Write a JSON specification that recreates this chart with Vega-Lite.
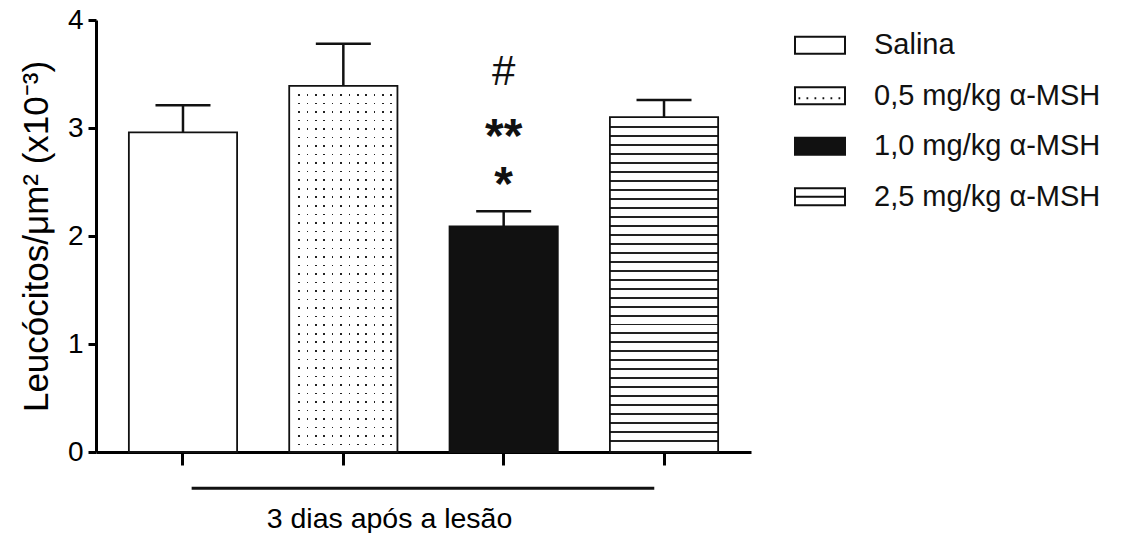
{
  "$schema": "https://vega.github.io/schema/vega-lite/v6.json",
  "padding": {"left": 19, "top": 6, "right": 5, "bottom": 0},
  "background": "white",
  "config": {
    "font": "Liberation Sans",
    "view": {"stroke": null},
    "axis": {"titleFontWeight": "normal", "domainColor": "black", "tickColor": "black", "labelColor": "black", "titleColor": "black", "grid": false}
  },
  "datasets": {
    "grupos": [
      {"grupo": "Salina", "media": 2.96, "superior": 3.21},
      {"grupo": "0,5 mg/kg α-MSH", "media": 3.39, "superior": 3.78},
      {"grupo": "1,0 mg/kg α-MSH", "media": 2.09, "superior": 2.23, "sig1": "#", "sig2": "**", "sig3": "*"},
      {"grupo": "2,5 mg/kg α-MSH", "media": 3.10, "superior": 3.26}
    ],
    "linha": [{"de": "Salina", "ate": "2,5 mg/kg α-MSH"}]
  },
  "hconcat": [
    {
      "width": 655,
      "height": 432,
      "data": {"name": "grupos"},
      "encoding": {
        "x": {
          "field": "grupo", "type": "nominal", "sort": null, "title": "3 dias após a lesão",
          "scale": {"type": "band", "domain": ["Salina", "0,5 mg/kg α-MSH", "1,0 mg/kg α-MSH", "2,5 mg/kg α-MSH"], "paddingInner": 0.325, "paddingOuter": 0.205},
          "axis": {"labels": false, "ticks": true, "tickSize": 13, "tickWidth": 3, "domainWidth": 3, "titleFontSize": 28.5, "titleX": 293, "titleY": 75, "titleBaseline": "alphabetic", "titleAlign": "center"}
        }
      },
      "layer": [
        {
          "mark": {"type": "bar", "stroke": null},
          "encoding": {
            "y": {
              "field": "media", "type": "quantitative", "title": "Leucócitos/μm² (x10⁻³)",
              "scale": {"domain": [0, 4], "nice": false, "zero": true},
              "axis": {"values": [0, 1, 2, 3, 4], "format": "d", "tickSize": 8, "tickWidth": 3, "domainWidth": 3, "labelFontSize": 28, "labelPadding": 5, "titleFontSize": 35, "titlePadding": 13}
            },
            "fill": {"field": "grupo", "type": "nominal", "legend": null, "scale": {"domain": ["Salina", "0,5 mg/kg α-MSH", "1,0 mg/kg α-MSH", "2,5 mg/kg α-MSH"], "range": ["white", "white", "#111111", "white"]}}
          }
        },
        {
          "transform": [{"filter": "datum.grupo === '0,5 mg/kg α-MSH'"}],
          "mark": {"type": "bar", "stroke": null, "fill": {"gradient": "linear", "x1": 0, "y1": 0, "x2": 1, "y2": 0, "stops": [
            {"offset": 0, "color": "white"},
            {"offset": 0.0851, "color": "white"}, {"offset": 0.0851, "color": "#222"}, {"offset": 0.1001, "color": "#222"}, {"offset": 0.1001, "color": "white"},
            {"offset": 0.1623, "color": "white"}, {"offset": 0.1623, "color": "#222"}, {"offset": 0.1773, "color": "#222"}, {"offset": 0.1773, "color": "white"},
            {"offset": 0.2395, "color": "white"}, {"offset": 0.2395, "color": "#222"}, {"offset": 0.2545, "color": "#222"}, {"offset": 0.2545, "color": "white"},
            {"offset": 0.3167, "color": "white"}, {"offset": 0.3167, "color": "#222"}, {"offset": 0.3317, "color": "#222"}, {"offset": 0.3317, "color": "white"},
            {"offset": 0.3939, "color": "white"}, {"offset": 0.3939, "color": "#222"}, {"offset": 0.4089, "color": "#222"}, {"offset": 0.4089, "color": "white"},
            {"offset": 0.4711, "color": "white"}, {"offset": 0.4711, "color": "#222"}, {"offset": 0.4861, "color": "#222"}, {"offset": 0.4861, "color": "white"},
            {"offset": 0.5483, "color": "white"}, {"offset": 0.5483, "color": "#222"}, {"offset": 0.5633, "color": "#222"}, {"offset": 0.5633, "color": "white"},
            {"offset": 0.6255, "color": "white"}, {"offset": 0.6255, "color": "#222"}, {"offset": 0.6405, "color": "#222"}, {"offset": 0.6405, "color": "white"},
            {"offset": 0.7027, "color": "white"}, {"offset": 0.7027, "color": "#222"}, {"offset": 0.7177, "color": "#222"}, {"offset": 0.7177, "color": "white"},
            {"offset": 0.7799, "color": "white"}, {"offset": 0.7799, "color": "#222"}, {"offset": 0.7949, "color": "#222"}, {"offset": 0.7949, "color": "white"},
            {"offset": 0.8571, "color": "white"}, {"offset": 0.8571, "color": "#222"}, {"offset": 0.8721, "color": "#222"}, {"offset": 0.8721, "color": "white"},
            {"offset": 0.9343, "color": "white"}, {"offset": 0.9343, "color": "#222"}, {"offset": 0.9493, "color": "#222"}, {"offset": 0.9493, "color": "white"},
            {"offset": 1, "color": "white"}
          ]}},
          "encoding": {"y": {"field": "media", "type": "quantitative"}}
        },
        {
          "transform": [{"filter": "datum.grupo === '0,5 mg/kg α-MSH'"}],
          "mark": {"type": "bar", "stroke": null, "fill": {"gradient": "linear", "x1": 0, "y1": 0, "x2": 0, "y2": 1, "stops": [
            {"offset": 0, "color": "white"},
            {"offset": 0.0224, "color": "white"}, {"offset": 0.0224, "color": "rgba(255,255,255,0)"}, {"offset": 0.0268, "color": "rgba(255,255,255,0)"}, {"offset": 0.0268, "color": "white"},
            {"offset": 0.0457, "color": "white"}, {"offset": 0.0457, "color": "rgba(255,255,255,0)"}, {"offset": 0.0501, "color": "rgba(255,255,255,0)"}, {"offset": 0.0501, "color": "white"},
            {"offset": 0.0690, "color": "white"}, {"offset": 0.0690, "color": "rgba(255,255,255,0)"}, {"offset": 0.0734, "color": "rgba(255,255,255,0)"}, {"offset": 0.0734, "color": "white"},
            {"offset": 0.0923, "color": "white"}, {"offset": 0.0923, "color": "rgba(255,255,255,0)"}, {"offset": 0.0967, "color": "rgba(255,255,255,0)"}, {"offset": 0.0967, "color": "white"},
            {"offset": 0.1156, "color": "white"}, {"offset": 0.1156, "color": "rgba(255,255,255,0)"}, {"offset": 0.1200, "color": "rgba(255,255,255,0)"}, {"offset": 0.1200, "color": "white"},
            {"offset": 0.1389, "color": "white"}, {"offset": 0.1389, "color": "rgba(255,255,255,0)"}, {"offset": 0.1433, "color": "rgba(255,255,255,0)"}, {"offset": 0.1433, "color": "white"},
            {"offset": 0.1622, "color": "white"}, {"offset": 0.1622, "color": "rgba(255,255,255,0)"}, {"offset": 0.1666, "color": "rgba(255,255,255,0)"}, {"offset": 0.1666, "color": "white"},
            {"offset": 0.1855, "color": "white"}, {"offset": 0.1855, "color": "rgba(255,255,255,0)"}, {"offset": 0.1899, "color": "rgba(255,255,255,0)"}, {"offset": 0.1899, "color": "white"},
            {"offset": 0.2088, "color": "white"}, {"offset": 0.2088, "color": "rgba(255,255,255,0)"}, {"offset": 0.2132, "color": "rgba(255,255,255,0)"}, {"offset": 0.2132, "color": "white"},
            {"offset": 0.2321, "color": "white"}, {"offset": 0.2321, "color": "rgba(255,255,255,0)"}, {"offset": 0.2365, "color": "rgba(255,255,255,0)"}, {"offset": 0.2365, "color": "white"},
            {"offset": 0.2554, "color": "white"}, {"offset": 0.2554, "color": "rgba(255,255,255,0)"}, {"offset": 0.2598, "color": "rgba(255,255,255,0)"}, {"offset": 0.2598, "color": "white"},
            {"offset": 0.2787, "color": "white"}, {"offset": 0.2787, "color": "rgba(255,255,255,0)"}, {"offset": 0.2831, "color": "rgba(255,255,255,0)"}, {"offset": 0.2831, "color": "white"},
            {"offset": 0.3020, "color": "white"}, {"offset": 0.3020, "color": "rgba(255,255,255,0)"}, {"offset": 0.3064, "color": "rgba(255,255,255,0)"}, {"offset": 0.3064, "color": "white"},
            {"offset": 0.3253, "color": "white"}, {"offset": 0.3253, "color": "rgba(255,255,255,0)"}, {"offset": 0.3297, "color": "rgba(255,255,255,0)"}, {"offset": 0.3297, "color": "white"},
            {"offset": 0.3486, "color": "white"}, {"offset": 0.3486, "color": "rgba(255,255,255,0)"}, {"offset": 0.3530, "color": "rgba(255,255,255,0)"}, {"offset": 0.3530, "color": "white"},
            {"offset": 0.3719, "color": "white"}, {"offset": 0.3719, "color": "rgba(255,255,255,0)"}, {"offset": 0.3763, "color": "rgba(255,255,255,0)"}, {"offset": 0.3763, "color": "white"},
            {"offset": 0.3952, "color": "white"}, {"offset": 0.3952, "color": "rgba(255,255,255,0)"}, {"offset": 0.3996, "color": "rgba(255,255,255,0)"}, {"offset": 0.3996, "color": "white"},
            {"offset": 0.4185, "color": "white"}, {"offset": 0.4185, "color": "rgba(255,255,255,0)"}, {"offset": 0.4229, "color": "rgba(255,255,255,0)"}, {"offset": 0.4229, "color": "white"},
            {"offset": 0.4418, "color": "white"}, {"offset": 0.4418, "color": "rgba(255,255,255,0)"}, {"offset": 0.4462, "color": "rgba(255,255,255,0)"}, {"offset": 0.4462, "color": "white"},
            {"offset": 0.4651, "color": "white"}, {"offset": 0.4651, "color": "rgba(255,255,255,0)"}, {"offset": 0.4695, "color": "rgba(255,255,255,0)"}, {"offset": 0.4695, "color": "white"},
            {"offset": 0.4884, "color": "white"}, {"offset": 0.4884, "color": "rgba(255,255,255,0)"}, {"offset": 0.4928, "color": "rgba(255,255,255,0)"}, {"offset": 0.4928, "color": "white"},
            {"offset": 0.5117, "color": "white"}, {"offset": 0.5117, "color": "rgba(255,255,255,0)"}, {"offset": 0.5161, "color": "rgba(255,255,255,0)"}, {"offset": 0.5161, "color": "white"},
            {"offset": 0.5350, "color": "white"}, {"offset": 0.5350, "color": "rgba(255,255,255,0)"}, {"offset": 0.5394, "color": "rgba(255,255,255,0)"}, {"offset": 0.5394, "color": "white"},
            {"offset": 0.5583, "color": "white"}, {"offset": 0.5583, "color": "rgba(255,255,255,0)"}, {"offset": 0.5627, "color": "rgba(255,255,255,0)"}, {"offset": 0.5627, "color": "white"},
            {"offset": 0.5816, "color": "white"}, {"offset": 0.5816, "color": "rgba(255,255,255,0)"}, {"offset": 0.5860, "color": "rgba(255,255,255,0)"}, {"offset": 0.5860, "color": "white"},
            {"offset": 0.6049, "color": "white"}, {"offset": 0.6049, "color": "rgba(255,255,255,0)"}, {"offset": 0.6093, "color": "rgba(255,255,255,0)"}, {"offset": 0.6093, "color": "white"},
            {"offset": 0.6282, "color": "white"}, {"offset": 0.6282, "color": "rgba(255,255,255,0)"}, {"offset": 0.6326, "color": "rgba(255,255,255,0)"}, {"offset": 0.6326, "color": "white"},
            {"offset": 0.6515, "color": "white"}, {"offset": 0.6515, "color": "rgba(255,255,255,0)"}, {"offset": 0.6559, "color": "rgba(255,255,255,0)"}, {"offset": 0.6559, "color": "white"},
            {"offset": 0.6748, "color": "white"}, {"offset": 0.6748, "color": "rgba(255,255,255,0)"}, {"offset": 0.6792, "color": "rgba(255,255,255,0)"}, {"offset": 0.6792, "color": "white"},
            {"offset": 0.6981, "color": "white"}, {"offset": 0.6981, "color": "rgba(255,255,255,0)"}, {"offset": 0.7025, "color": "rgba(255,255,255,0)"}, {"offset": 0.7025, "color": "white"},
            {"offset": 0.7214, "color": "white"}, {"offset": 0.7214, "color": "rgba(255,255,255,0)"}, {"offset": 0.7258, "color": "rgba(255,255,255,0)"}, {"offset": 0.7258, "color": "white"},
            {"offset": 0.7447, "color": "white"}, {"offset": 0.7447, "color": "rgba(255,255,255,0)"}, {"offset": 0.7491, "color": "rgba(255,255,255,0)"}, {"offset": 0.7491, "color": "white"},
            {"offset": 0.7680, "color": "white"}, {"offset": 0.7680, "color": "rgba(255,255,255,0)"}, {"offset": 0.7724, "color": "rgba(255,255,255,0)"}, {"offset": 0.7724, "color": "white"},
            {"offset": 0.7913, "color": "white"}, {"offset": 0.7913, "color": "rgba(255,255,255,0)"}, {"offset": 0.7957, "color": "rgba(255,255,255,0)"}, {"offset": 0.7957, "color": "white"},
            {"offset": 0.8146, "color": "white"}, {"offset": 0.8146, "color": "rgba(255,255,255,0)"}, {"offset": 0.8190, "color": "rgba(255,255,255,0)"}, {"offset": 0.8190, "color": "white"},
            {"offset": 0.8379, "color": "white"}, {"offset": 0.8379, "color": "rgba(255,255,255,0)"}, {"offset": 0.8423, "color": "rgba(255,255,255,0)"}, {"offset": 0.8423, "color": "white"},
            {"offset": 0.8612, "color": "white"}, {"offset": 0.8612, "color": "rgba(255,255,255,0)"}, {"offset": 0.8656, "color": "rgba(255,255,255,0)"}, {"offset": 0.8656, "color": "white"},
            {"offset": 0.8845, "color": "white"}, {"offset": 0.8845, "color": "rgba(255,255,255,0)"}, {"offset": 0.8889, "color": "rgba(255,255,255,0)"}, {"offset": 0.8889, "color": "white"},
            {"offset": 0.9078, "color": "white"}, {"offset": 0.9078, "color": "rgba(255,255,255,0)"}, {"offset": 0.9122, "color": "rgba(255,255,255,0)"}, {"offset": 0.9122, "color": "white"},
            {"offset": 0.9311, "color": "white"}, {"offset": 0.9311, "color": "rgba(255,255,255,0)"}, {"offset": 0.9355, "color": "rgba(255,255,255,0)"}, {"offset": 0.9355, "color": "white"},
            {"offset": 0.9544, "color": "white"}, {"offset": 0.9544, "color": "rgba(255,255,255,0)"}, {"offset": 0.9588, "color": "rgba(255,255,255,0)"}, {"offset": 0.9588, "color": "white"},
            {"offset": 0.9777, "color": "white"}, {"offset": 0.9777, "color": "rgba(255,255,255,0)"}, {"offset": 0.9821, "color": "rgba(255,255,255,0)"}, {"offset": 0.9821, "color": "white"},
            {"offset": 1, "color": "white"}
          ]}},
          "encoding": {"y": {"field": "media", "type": "quantitative"}}
        },
        {
          "transform": [{"filter": "datum.grupo === '2,5 mg/kg α-MSH'"}],
          "mark": {"type": "bar", "stroke": null, "fill": {"gradient": "linear", "x1": 0, "y1": 0, "x2": 0, "y2": 1, "stops": [
            {"offset": 0, "color": "white"},
            {"offset": 0.0270, "color": "white"}, {"offset": 0.0270, "color": "#222"}, {"offset": 0.0329, "color": "#222"}, {"offset": 0.0329, "color": "white"},
            {"offset": 0.0538, "color": "white"}, {"offset": 0.0538, "color": "#222"}, {"offset": 0.0597, "color": "#222"}, {"offset": 0.0597, "color": "white"},
            {"offset": 0.0806, "color": "white"}, {"offset": 0.0806, "color": "#222"}, {"offset": 0.0865, "color": "#222"}, {"offset": 0.0865, "color": "white"},
            {"offset": 0.1073, "color": "white"}, {"offset": 0.1073, "color": "#222"}, {"offset": 0.1132, "color": "#222"}, {"offset": 0.1132, "color": "white"},
            {"offset": 0.1341, "color": "white"}, {"offset": 0.1341, "color": "#222"}, {"offset": 0.1400, "color": "#222"}, {"offset": 0.1400, "color": "white"},
            {"offset": 0.1609, "color": "white"}, {"offset": 0.1609, "color": "#222"}, {"offset": 0.1668, "color": "#222"}, {"offset": 0.1668, "color": "white"},
            {"offset": 0.1877, "color": "white"}, {"offset": 0.1877, "color": "#222"}, {"offset": 0.1936, "color": "#222"}, {"offset": 0.1936, "color": "white"},
            {"offset": 0.2145, "color": "white"}, {"offset": 0.2145, "color": "#222"}, {"offset": 0.2204, "color": "#222"}, {"offset": 0.2204, "color": "white"},
            {"offset": 0.2412, "color": "white"}, {"offset": 0.2412, "color": "#222"}, {"offset": 0.2471, "color": "#222"}, {"offset": 0.2471, "color": "white"},
            {"offset": 0.2680, "color": "white"}, {"offset": 0.2680, "color": "#222"}, {"offset": 0.2739, "color": "#222"}, {"offset": 0.2739, "color": "white"},
            {"offset": 0.2948, "color": "white"}, {"offset": 0.2948, "color": "#222"}, {"offset": 0.3007, "color": "#222"}, {"offset": 0.3007, "color": "white"},
            {"offset": 0.3216, "color": "white"}, {"offset": 0.3216, "color": "#222"}, {"offset": 0.3275, "color": "#222"}, {"offset": 0.3275, "color": "white"},
            {"offset": 0.3484, "color": "white"}, {"offset": 0.3484, "color": "#222"}, {"offset": 0.3543, "color": "#222"}, {"offset": 0.3543, "color": "white"},
            {"offset": 0.3751, "color": "white"}, {"offset": 0.3751, "color": "#222"}, {"offset": 0.3810, "color": "#222"}, {"offset": 0.3810, "color": "white"},
            {"offset": 0.4019, "color": "white"}, {"offset": 0.4019, "color": "#222"}, {"offset": 0.4078, "color": "#222"}, {"offset": 0.4078, "color": "white"},
            {"offset": 0.4287, "color": "white"}, {"offset": 0.4287, "color": "#222"}, {"offset": 0.4346, "color": "#222"}, {"offset": 0.4346, "color": "white"},
            {"offset": 0.4555, "color": "white"}, {"offset": 0.4555, "color": "#222"}, {"offset": 0.4614, "color": "#222"}, {"offset": 0.4614, "color": "white"},
            {"offset": 0.4823, "color": "white"}, {"offset": 0.4823, "color": "#222"}, {"offset": 0.4882, "color": "#222"}, {"offset": 0.4882, "color": "white"},
            {"offset": 0.5090, "color": "white"}, {"offset": 0.5090, "color": "#222"}, {"offset": 0.5149, "color": "#222"}, {"offset": 0.5149, "color": "white"},
            {"offset": 0.5358, "color": "white"}, {"offset": 0.5358, "color": "#222"}, {"offset": 0.5417, "color": "#222"}, {"offset": 0.5417, "color": "white"},
            {"offset": 0.5626, "color": "white"}, {"offset": 0.5626, "color": "#222"}, {"offset": 0.5685, "color": "#222"}, {"offset": 0.5685, "color": "white"},
            {"offset": 0.5894, "color": "white"}, {"offset": 0.5894, "color": "#222"}, {"offset": 0.5953, "color": "#222"}, {"offset": 0.5953, "color": "white"},
            {"offset": 0.6162, "color": "white"}, {"offset": 0.6162, "color": "#222"}, {"offset": 0.6221, "color": "#222"}, {"offset": 0.6221, "color": "white"},
            {"offset": 0.6429, "color": "white"}, {"offset": 0.6429, "color": "#222"}, {"offset": 0.6488, "color": "#222"}, {"offset": 0.6488, "color": "white"},
            {"offset": 0.6697, "color": "white"}, {"offset": 0.6697, "color": "#222"}, {"offset": 0.6756, "color": "#222"}, {"offset": 0.6756, "color": "white"},
            {"offset": 0.6965, "color": "white"}, {"offset": 0.6965, "color": "#222"}, {"offset": 0.7024, "color": "#222"}, {"offset": 0.7024, "color": "white"},
            {"offset": 0.7233, "color": "white"}, {"offset": 0.7233, "color": "#222"}, {"offset": 0.7292, "color": "#222"}, {"offset": 0.7292, "color": "white"},
            {"offset": 0.7501, "color": "white"}, {"offset": 0.7501, "color": "#222"}, {"offset": 0.7560, "color": "#222"}, {"offset": 0.7560, "color": "white"},
            {"offset": 0.7768, "color": "white"}, {"offset": 0.7768, "color": "#222"}, {"offset": 0.7827, "color": "#222"}, {"offset": 0.7827, "color": "white"},
            {"offset": 0.8036, "color": "white"}, {"offset": 0.8036, "color": "#222"}, {"offset": 0.8095, "color": "#222"}, {"offset": 0.8095, "color": "white"},
            {"offset": 0.8304, "color": "white"}, {"offset": 0.8304, "color": "#222"}, {"offset": 0.8363, "color": "#222"}, {"offset": 0.8363, "color": "white"},
            {"offset": 0.8572, "color": "white"}, {"offset": 0.8572, "color": "#222"}, {"offset": 0.8631, "color": "#222"}, {"offset": 0.8631, "color": "white"},
            {"offset": 0.8840, "color": "white"}, {"offset": 0.8840, "color": "#222"}, {"offset": 0.8899, "color": "#222"}, {"offset": 0.8899, "color": "white"},
            {"offset": 0.9107, "color": "white"}, {"offset": 0.9107, "color": "#222"}, {"offset": 0.9166, "color": "#222"}, {"offset": 0.9166, "color": "white"},
            {"offset": 0.9375, "color": "white"}, {"offset": 0.9375, "color": "#222"}, {"offset": 0.9434, "color": "#222"}, {"offset": 0.9434, "color": "white"},
            {"offset": 0.9643, "color": "white"}, {"offset": 0.9643, "color": "#222"}, {"offset": 0.9702, "color": "#222"}, {"offset": 0.9702, "color": "white"},
            {"offset": 1, "color": "white"}
          ]}},
          "encoding": {"y": {"field": "media", "type": "quantitative"}}
        },
        {
          "mark": {"type": "bar", "fillOpacity": 0, "stroke": "#111111", "strokeWidth": 1.8},
          "encoding": {"y": {"field": "media", "type": "quantitative"}}
        },
        {
          "mark": {"type": "rule", "stroke": "#111111", "strokeWidth": 2.5},
          "encoding": {
            "y": {"field": "media", "type": "quantitative"},
            "y2": {"field": "superior"}
          }
        },
        {
          "mark": {"type": "tick", "color": "#111111", "size": 55, "thickness": 2.5, "opacity": 1},
          "encoding": {"y": {"field": "superior", "type": "quantitative"}}
        },
        {
          "transform": [{"filter": "datum.sig1"}],
          "mark": {"type": "text", "fontSize": 42, "baseline": "alphabetic", "color": "#111111"},
          "encoding": {"y": {"datum": 3.40, "type": "quantitative"}, "text": {"field": "sig1"}}
        },
        {
          "transform": [{"filter": "datum.sig2"}],
          "mark": {"type": "text", "fontSize": 48, "fontWeight": "bold", "baseline": "alphabetic", "color": "#111111"},
          "encoding": {"y": {"datum": 2.78, "type": "quantitative"}, "text": {"field": "sig2"}}
        },
        {
          "transform": [{"filter": "datum.sig3"}],
          "mark": {"type": "text", "fontSize": 48, "fontWeight": "bold", "baseline": "alphabetic", "color": "#111111"},
          "encoding": {"y": {"datum": 2.33, "type": "quantitative"}, "text": {"field": "sig3"}}
        },
        {
          "data": {"name": "linha"},
          "mark": {"type": "rule", "stroke": "#111111", "strokeWidth": 3},
          "encoding": {
            "x": {"field": "de", "type": "nominal", "title": "3 dias após a lesão", "bandPosition": 0.58},
            "x2": {"field": "ate", "bandPosition": 0.41},
            "y": {"datum": -0.335, "type": "quantitative"}
          }
        }
      ]
    },
    {
      "width": 50,
      "height": 202,
      "data": {"name": "grupos"},
      "encoding": {
        "y": {"field": "grupo", "type": "nominal", "sort": null, "axis": null, "scale": {"type": "point", "padding": 0.5, "domain": ["Salina", "0,5 mg/kg α-MSH", "1,0 mg/kg α-MSH", "2,5 mg/kg α-MSH"]}}
      },
      "layer": [
        {
          "mark": {"type": "point", "size": 2500, "filled": true, "opacity": 1, "stroke": "#111111", "strokeWidth": 2},
          "encoding": {
            "shape": {"field": "grupo", "type": "nominal", "legend": null, "scale": {"domain": ["Salina", "0,5 mg/kg α-MSH", "1,0 mg/kg α-MSH", "2,5 mg/kg α-MSH"], "range": [
              "M-1,-0.34H1V0.34H-1Z",
              "M-1,-0.34H1V0.34H-1ZM-0.86,0.1h0.07M-0.54,0.1h0.07M-0.22,0.1h0.07M0.1,0.1h0.07M0.42,0.1h0.07M0.74,0.1h0.07",
              "M-1,-0.34H1V0.34H-1Z",
              "M-1,-0.34H1V0.34H-1ZM-1,0H1"
            ]}},
            "fill": {"field": "grupo", "type": "nominal", "legend": null, "scale": {"domain": ["Salina", "0,5 mg/kg α-MSH", "1,0 mg/kg α-MSH", "2,5 mg/kg α-MSH"], "range": ["white", "white", "#111111", "white"]}}
          }
        },
        {
          "mark": {"type": "text", "align": "left", "baseline": "middle", "dx": 54, "fontSize": 29, "color": "#111111"},
          "encoding": {"text": {"field": "grupo"}}
        }
      ]
    }
  ],
  "spacing": 40
}
